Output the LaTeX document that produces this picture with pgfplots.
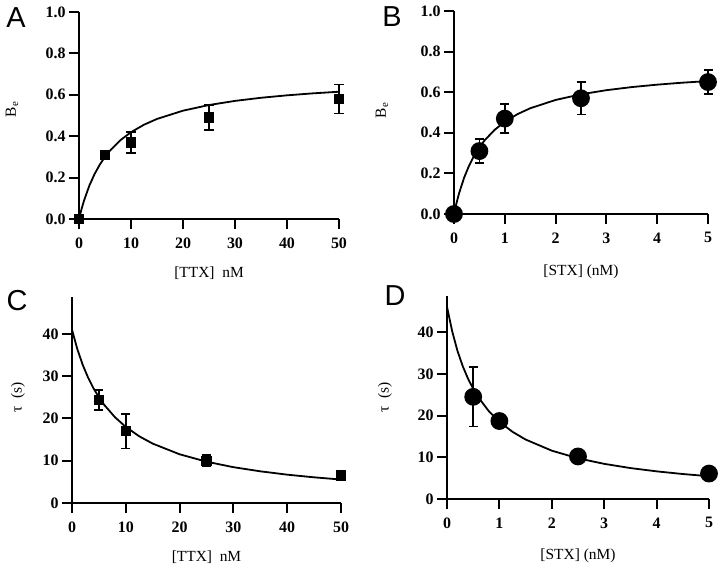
\documentclass[border=0pt]{standalone}
\usepackage{pgfplots}
\pgfplotsset{compat=1.18}
\usepackage{fontspec}
\setmainfont{Liberation Serif}
\newfontfamily\panelfont{Liberation Sans}
\pgfplotsset{
  panel/.style={
    scale only axis, axis lines=left, axis line style={line width=2bp, -},
    tick align=outside, major tick length=10bp,
    every tick/.style={line width=2bp, black},
    tick label style={font=\fontsize{16}{18}\selectfont\bfseries},
    xticklabel style={yshift=-5bp},
    label style={font=\fontsize{15.5}{17}\selectfont},
    /pgf/number format/assume math mode=true,
    clip=false, xmin=0, ymin=0,
  },
  fitline/.style={black, line width=1.8bp, no marks},
  pts/.style={black, only marks, line width=1.8bp,
    error bars/y dir=both, error bars/y explicit,
    error bars/error bar style={line width=1.8bp, black},
    error bars/error mark options={line width=1.8bp, mark size=4.5bp, black, rotate=90}},
}
\begin{document}
\begin{tikzpicture}
\path[use as bounding box] (0bp,0bp) rectangle (720bp,568bp);
% ---------- A ----------
\begin{axis}[panel, at={(79bp,349bp)}, anchor=south west, width=260bp, height=207bp,
  xmax=50, ymax=1, xtick={0,10,...,50}, ytick={0,0.2,...,1.0},
  yticklabel style={/pgf/number format/.cd, fixed, fixed zerofill, precision=1},
  xlabel={[TTX]\ \ nM}, ylabel={B\textsubscript{e}},
  xlabel style={at={(axis description cs:0.5,0)}, anchor=center, yshift=-54bp},
  ylabel style={at={(axis description cs:-0.2577,0.53)}, anchor=center}]
\addplot[fitline] coordinates {(0,0) (0.5,0.049) (1,0.0916) (2,0.1619) (3,0.2175) (4,0.2626) (5,0.300) (6,0.3314) (8,0.3814) (10,0.4193) (12.5,0.4555) (15,0.4833) (20,0.5233) (25,0.5506) (30,0.5705) (35,0.5856) (40,0.5974) (45,0.607) (50,0.6148)};
\addplot[pts, mark=square*, mark size=4.2bp] coordinates {(0,0) +- (0,0) (5,0.31) +- (0,0.02) (10,0.37) +- (0,0.05) (25,0.49) +- (0,0.06) (50,0.58) +- (0,0.07)};
\end{axis}
% ---------- B ----------
\begin{axis}[panel, at={(454bp,354bp)}, anchor=south west, width=254bp, height=203bp,
  xmax=5, ymax=1, xtick={0,1,...,5}, ytick={0,0.2,...,1.0},
  yticklabel style={/pgf/number format/.cd, fixed, fixed zerofill, precision=1},
  xlabel={[STX] (nM)}, ylabel={B\textsubscript{e}},
  xlabel style={at={(axis description cs:0.5,0)}, anchor=center, yshift=-58bp},
  ylabel style={at={(axis description cs:-0.2835,0.51)}, anchor=center}]
\addplot[fitline] coordinates {(0,0) (0.05,0.0549) (0.1,0.1022) (0.2,0.1795) (0.3,0.24) (0.4,0.2886) (0.5,0.3286) (0.6,0.362) (0.8,0.4146) (1,0.4543) (1.25,0.492) (1.5,0.5208) (2,0.5618) (2.5,0.5897) (3,0.6099) (3.5,0.6252) (4,0.6372) (4.5,0.6469) (5,0.6548)};
\addplot[pts, mark=*, mark size=8bp] coordinates {(0,0) +- (0,0) (0.5,0.31) +- (0,0.06) (1,0.47) +- (0,0.07) (2.5,0.57) +- (0,0.08) (5,0.65) +- (0,0.06)};
\end{axis}
% ---------- C ----------
\begin{axis}[panel, at={(72bp,65bp)}, anchor=south west, width=269bp, height=206.4bp,
  xmax=50, ymax=48.8, xtick={0,10,...,50}, ytick={0,10,...,40},
  xlabel={[TTX]\ \ nM}, ylabel={τ\ \ (s)},
  xlabel style={at={(axis description cs:0.5,0)}, anchor=center, yshift=-54bp},
  ylabel style={at={(axis description cs:-0.2007,0.51)}, anchor=center}]
\addplot[fitline] coordinates {(0,40.98) (1,36.34) (2,32.64) (3,29.62) (4,27.11) (5,25.0) (6,23.19) (8,20.26) (10,17.99) (12.5,15.77) (15,14.04) (20,11.52) (25,9.77) (30,8.47) (35,7.49) (40,6.70) (45,6.07) (50,5.54)};
\addplot[pts, mark=square*, mark size=4.2bp] coordinates {(5,24.3) +- (0,2.4) (10,17) +- (0,4.1) (25,10) +- (0,1.3) (50,6.5) +- (0,1.2)};
\end{axis}
% ---------- D ----------
\begin{axis}[panel, at={(447bp,69bp)}, anchor=south west, width=262bp, height=203.5bp,
  xmax=5, ymax=48.8, xtick={0,1,...,5}, ytick={0,10,...,40},
  xlabel={[STX] (nM)}, ylabel={τ\ \ (s)},
  xlabel style={at={(axis description cs:0.5,0)}, anchor=center, yshift=-57bp},
  ylabel style={at={(axis description cs:-0.2366,0.50)}, anchor=center}]
\addplot[fitline] coordinates {(0,46.08) (0.1,40.16) (0.2,35.51) (0.3,31.86) (0.4,28.89) (0.5,26.42) (0.6,24.34) (0.8,21.03) (1,18.52) (1.25,16.11) (1.5,14.26) (2,11.59) (2.5,9.76) (3,8.43) (3.5,7.42) (4,6.63) (4.5,5.99) (5,5.46)};
\addplot[pts, mark=*, mark size=8bp] coordinates {(0.5,24.5) +- (0,7.1) (1,18.7) +- (0,1.0) (2.5,10.2) +- (0,0) (5,6.1) +- (0,0)};
\end{axis}
% panel letters
\node[font=\panelfont\fontsize{29}{32}\selectfont] at (16bp,550bp) {A};
\node[font=\panelfont\fontsize{29}{32}\selectfont] at (392bp,551bp) {B};
\node[font=\panelfont\fontsize{29}{32}\selectfont] at (17bp,267bp) {C};
\node[font=\panelfont\fontsize{29}{32}\selectfont] at (395bp,272bp) {D};
\end{tikzpicture}
\end{document}
